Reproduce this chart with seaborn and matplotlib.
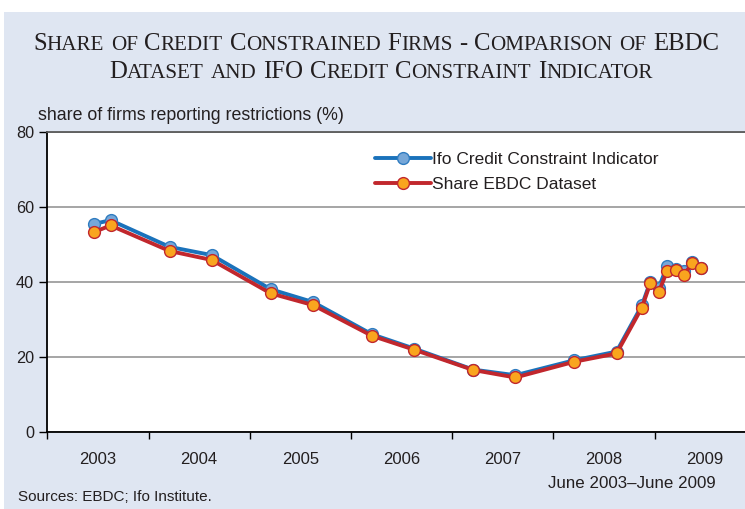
import pandas as pd
import seaborn as sns
import matplotlib.pyplot as plt
from matplotlib.patches import Rectangle
from matplotlib.offsetbox import TextArea, HPacker, AnchoredOffsetbox

# Survey months (year-month) and the two series, in percent
months = ['2003-06', '2003-08', '2004-03', '2004-08', '2005-03', '2005-08',
          '2006-03', '2006-08', '2007-03', '2007-08', '2008-03', '2008-08',
          '2008-11', '2008-12', '2009-01', '2009-02', '2009-03', '2009-04',
          '2009-05', '2009-06']
ifo_values = [55.5, 56.5, 49.4, 47.2, 38.1, 34.7, 26.1, 22.3, 16.7, 15.2,
              19.2, 21.5, 33.8, 40.1, 38.5, 44.3, 43.4, 43.0, 45.5, 43.8]
ebdc_values = [53.3, 55.1, 48.3, 45.9, 37.0, 33.9, 25.7, 22.0, 16.6, 14.6,
               18.8, 21.0, 33.2, 39.7, 37.4, 42.9, 43.2, 41.9, 45.2, 43.7]
year_labels = ['2003', '2004', '2005', '2006', '2007', '2008', '2009']
y_ticks = [0, 20, 40, 60, 80]

title_lines = ['Share of Credit Constrained Firms - Comparison of EBDC',
               'Dataset and IFO Credit Constraint Indicator']


def to_decimal(m):
    yr, mo = m.split('-')
    return int(yr) + (int(mo) - 0.5) / 12


df = pd.DataFrame({'date': [to_decimal(m) for m in months],
                   'ifo': ifo_values,
                   'ebdc': ebdc_values})

sns.set_style('white')
plt.rcParams['font.family'] = ['Liberation Sans', 'DejaVu Sans']

panel = '#dfe6f2'
ink = '#231f20'

fig = plt.figure(figsize=(7.45, 5.09), dpi=100)
fig.patch.set_facecolor('white')
# light blue panel below the white strip on top
fig.add_artist(Rectangle((4 / 745, 0), 1, 1 - 12 / 509, transform=fig.transFigure,
                         facecolor=panel, edgecolor='none', zorder=-1))


def small_caps_line(text, y, x=0.5, big=17.8, small=15.2):
    # emulate small caps: capitals large, lower-case letters as smaller capitals
    words = []
    for word in text.split(' '):
        parts = []
        run = ''
        run_big = None
        for ch in word:
            is_big = not ch.islower()
            if run and is_big != run_big:
                parts.append(TextArea(run.upper(), textprops=dict(
                    fontsize=big if run_big else small, family='Liberation Serif', color=ink)))
                run = ''
            run += ch
            run_big = is_big
        parts.append(TextArea(run.upper(), textprops=dict(
            fontsize=big if run_big else small, family='Liberation Serif', color=ink)))
        words.append(HPacker(children=parts, align='baseline', pad=0, sep=0))
    line = HPacker(children=words, align='baseline', pad=0, sep=4.8)
    box = AnchoredOffsetbox(loc='center', child=line, pad=0, borderpad=0, frameon=False,
                            bbox_to_anchor=(x, y), bbox_transform=fig.transFigure)
    fig.add_artist(box)


small_caps_line(title_lines[0], 1 - 44 / 509, x=376 / 745)
small_caps_line(title_lines[1], 1 - 72 / 509, x=381 / 745)

ax = fig.add_axes([47.3 / 745, 1 - 432.3 / 509, 708.4 / 745, 300.3 / 509])
ax.set_facecolor('white')

sns.lineplot(data=df, x='date', y='ifo', ax=ax, color='#1a72bb', linewidth=2.8,
             marker='o', markersize=8.5, markerfacecolor='#76a7d8', markeredgecolor='#2f7cc0',
             markeredgewidth=1, label='Ifo Credit Constraint Indicator')
sns.lineplot(data=df, x='date', y='ebdc', ax=ax, color='#c1272d', linewidth=2.8,
             marker='o', markersize=8.5, markerfacecolor='#f9a51e', markeredgecolor='#c1272d',
             markeredgewidth=1, label='Share EBDC Dataset')

ax.set_xlim(2003, 2010)
ax.set_ylim(0, 80)
ax.set_yticks(y_ticks)
ax.set_xticks(range(2003, 2011))
ax.set_xticklabels([])
ax.set_xticks([int(y) + 0.5 for y in year_labels], minor=True)
ax.set_xticklabels(year_labels, minor=True)
ax.tick_params(axis='x', which='major', direction='out', length=5, width=1, color='black',
               bottom=True)
ax.tick_params(axis='x', which='minor', length=0, pad=14, labelsize=12, labelcolor=ink)
ax.tick_params(axis='y', direction='out', length=5.5, width=1, color='black', pad=4,
               labelsize=11.7, labelcolor=ink, left=True)
ax.set_xlabel('')
ax.set_ylabel('')
ax.yaxis.grid(True, color='#a5a5a5', linewidth=1.4)
ax.set_axisbelow(True)

for side in ['left', 'bottom']:
    ax.spines[side].set_color('black')
    ax.spines[side].set_linewidth(1.3)
ax.spines['top'].set_color('#5a5a5a')
ax.spines['top'].set_linewidth(1.3)

ax.legend(loc='upper left', bbox_to_anchor=(375 / 745, 1 - 152 / 509),
          bbox_transform=fig.transFigure, frameon=False, fontsize=12.5,
          handlelength=3.2, handletextpad=0.1, borderpad=0, borderaxespad=0,
          labelspacing=0.57, labelcolor=ink)

fig.text(38 / 745, 1 - 115 / 509, 'share of firms reporting restrictions (%)',
         fontsize=12.8, color=ink, ha='left', va='center')
fig.text(716 / 745, 1 - 484 / 509, 'June 2003\u2013June 2009', fontsize=12.2,
         color=ink, ha='right', va='center')
fig.text(18 / 745, 1 - 497 / 509, 'Sources: EBDC; Ifo Institute.', fontsize=11,
         color=ink, ha='left', va='center')

fig.savefig('out.png', dpi=100)
